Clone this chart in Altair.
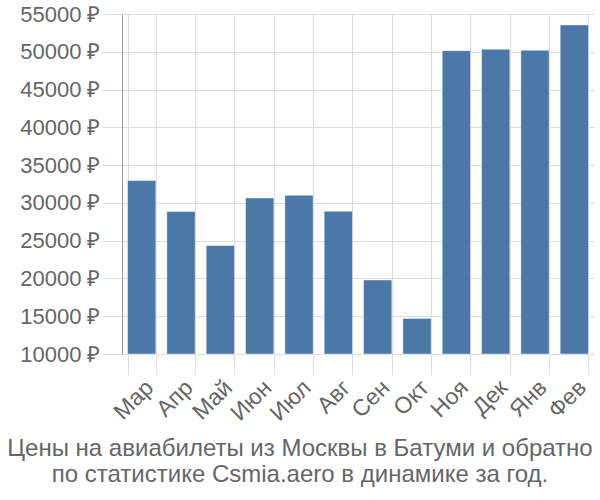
import altair as alt
import pandas as pd

months = ["Мар", "Апр", "Май", "Июн", "Июл", "Авг", "Сен", "Окт", "Ноя", "Дек", "Янв", "Фев"]
prices = [32950, 28850, 24350, 30650, 31000, 28900, 19800, 14700, 50150, 50350, 50200, 53550]
y_ticks = [10000, 15000, 20000, 25000, 30000, 35000, 40000, 45000, 50000, 55000]
title_lines = [
    "Цены на авиабилеты из Москвы в Батуми и обратно",
    "по статистике Csmia.aero в динамике за год.",
]

df = pd.DataFrame({"month": months, "price": prices})

FONT = "Liberation Sans"
GRID = "#dddddd"
TEXT = "#666666"

chart = (
    alt.Chart(df)
    .mark_bar(color="#4c78a8", stroke="white", strokeOpacity=0.45, strokeWidth=1)
    .encode(
        x=alt.X(
            "month:N",
            sort=months,
            title=None,
            scale=alt.Scale(paddingInner=0.28, paddingOuter=0.14),
            axis=alt.Axis(
                labelAngle=-45,
                labelFontSize=23,
                labelFont=FONT,
                labelColor=TEXT,
                tickBand="extent",
                tickSize=20,
                tickColor=GRID,
                domainColor=GRID,
                gridColor=GRID,
                grid=True,
                labelPadding=2,
            ),
        ),
        y=alt.Y(
            "price:Q",
            title=None,
            scale=alt.Scale(domain=[10000, 55000], nice=False, zero=False),
            axis=alt.Axis(
                values=y_ticks,
                labelExpr="format(datum.value, 'd') + ' ₽'",
                labelFontSize=22,
                labelFont=FONT,
                labelColor=TEXT,
                tickSize=20,
                tickColor=GRID,
                domainColor="#999999",
                gridColor=GRID,
                labelPadding=2,
            ),
        ),
        y2=alt.Y2(datum=10000),
    )
    .properties(
        width=472,
        height=340,
        autosize=alt.AutoSizeParams(type="none"),
        padding={"left": 122, "top": 14, "right": 6, "bottom": 146},
        title=alt.TitleParams(
            title_lines,
            orient="bottom",
            anchor="middle",
            fontSize=24,
            font=FONT,
            fontWeight="normal",
            color=TEXT,
            dx=-58,
            offset=12,
            lineHeight=26,
        ),
    )
    .configure_view(stroke=None)
    .configure_axis(gridWidth=1, tickWidth=1, domainWidth=1)
)

chart.save("out.html", embed_options={"renderer": "svg", "actions": False})
